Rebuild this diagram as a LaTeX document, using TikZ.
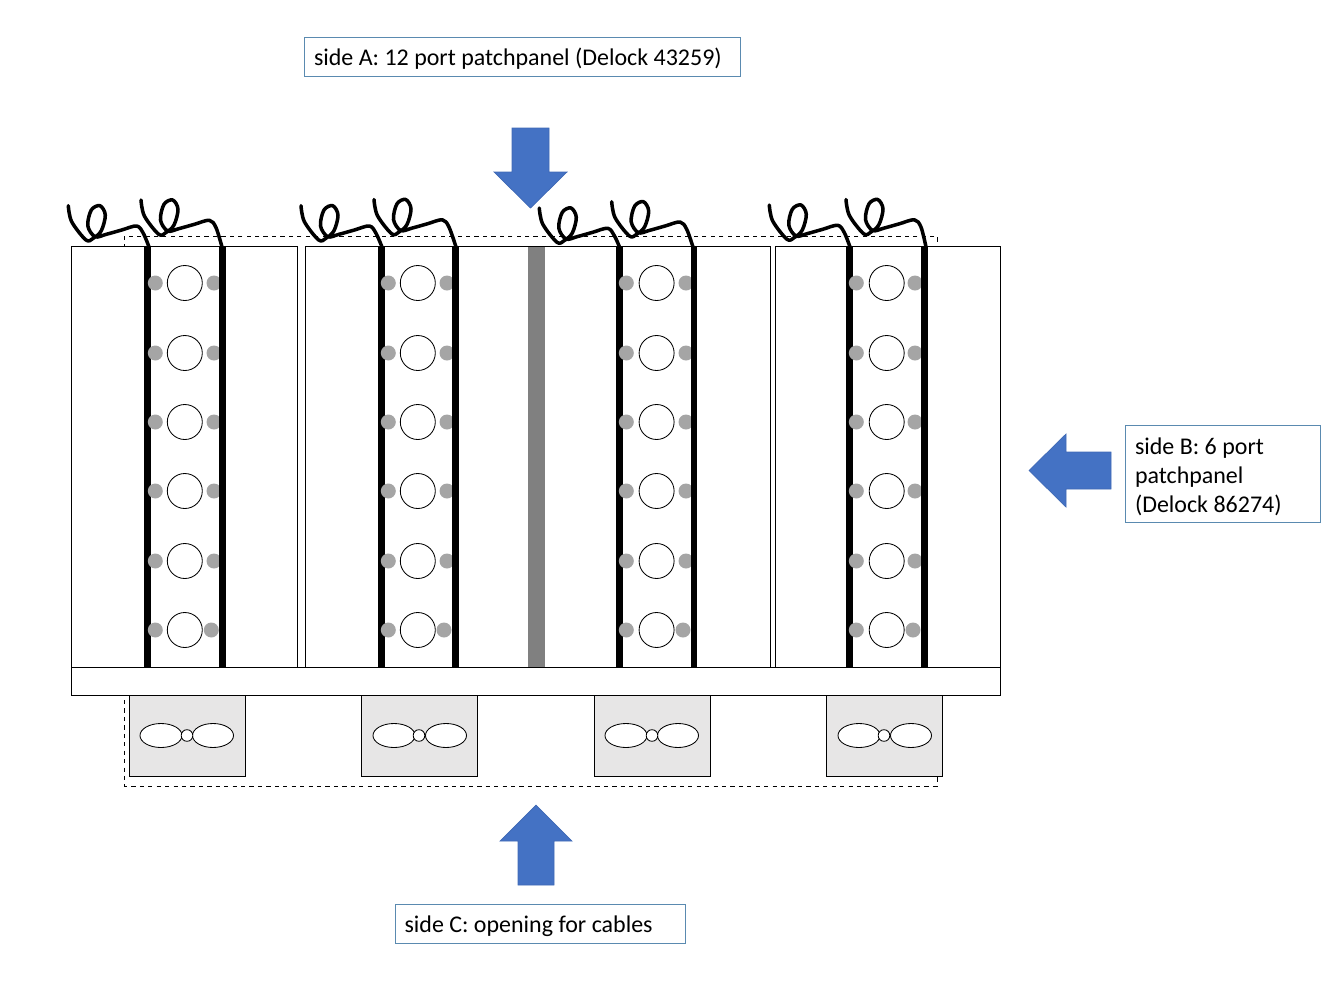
\documentclass[tikz,border=0pt]{standalone}
\usepackage{fontspec}
\setmainfont{Carlito}
\definecolor{arrowblue}{HTML}{4472C4}
\definecolor{arrowedge}{HTML}{3F69B5}
\definecolor{boxedge}{HTML}{5A8AB0}
\definecolor{fangray}{HTML}{E7E6E6}
\definecolor{dotgray}{HTML}{A5A5A5}
\tikzset{
    lab/.style={
        draw=boxedge, line width=0.6pt, inner sep=0pt, align=flush left,
        font=\fontsize{17.05}{20.5}\selectfont,
        execute at begin node={\rule{0pt}{15.5pt}}
    },
    panel/.style={draw=black, fill=white, line width=0.7pt},
    fanbox/.style={draw=black, fill=fangray, line width=0.7pt},
    blockarrow/.style={draw=arrowedge, fill=arrowblue, line width=0.5pt},
    port/.style={draw=black, fill=white, line width=0.6pt},
    wire/.style={line width=2.5pt, line cap=round, line join=round}
}
% curl at (#1,#2), running down into the bar top at x=#3
\newcommand{\curlwire}[3]{
    \draw[wire] plot[smooth,tension=0.55] coordinates {
        (#1,#2) (#1+3.4,#2+16) (#1+17.7,#2+34.3) (#1+25,#2+32.5) (#1+33,#2+25)
        (#1+37,#2+9.3) (#1+31.7,#2) (#1+23,#2+4.3) (#1+19.5,#2+20)
        (#1+26.7,#2+31) (#1+38,#2+28.6) (#1+53.4,#2+24.3) (#1+68.4,#2+20.3) (#1+75,#2+27.6) (#3,247)};
}
\begin{document}
\begin{tikzpicture}[x=0.025cm,y=-0.025cm,line join=miter]
\useasboundingbox (0,0) rectangle (1344,1008);

% dashed outline of the enclosure
    \draw[dashed, line width=0.6pt] (124.5,236) rectangle (937,786);

% panels
    \draw[panel] (71.5,246.5) rectangle (297.5,667);
    \draw[panel] (305,246.5) rectangle (770.5,667);
    \draw[panel] (775,246.5) rectangle (1000.5,667);
    \draw[panel] (71.5,667) rectangle (1000.5,695);

% divider
    \fill[gray] (528.3,247) rectangle (544.5,667);

% fan boxes
    \foreach \fx/\ox in {129.5/0,361.5/1,594.5/0,826.5/1}{
        \draw[fanbox] (\fx,695) rectangle ++(116,81);
        \draw[port] (\fx+\ox+31.5,735.5) ellipse (21 and 12);
        \draw[port] (\fx+\ox+83.5,735.5) ellipse (20.5 and 12);
        \draw[port] (\fx+57.5,735.5) circle (5.8);
    }

% right dots sit behind the bars
    \foreach \rx/\ex in {214/211.3,447/444,686/683,915/913}{
        \foreach \py in {283,353,422,491,561}{
            \fill[dotgray] (\rx,\py) circle (7.5);
        }
        \fill[dotgray] (\ex,630) circle (7.5);
    }

% bars and wires
    \foreach \bx in {147.5,222.5,381.5,455.5,619.5,694,849.5,924.5}{
        \fill[black] (\bx-3.3,247) rectangle (\bx+3.3,667);
    }
    \curlwire{68.3}{205.7}{149}
    \curlwire{141}{200}{222}
    \curlwire{301}{205.7}{382}
    \curlwire{374}{199.5}{456}
    \curlwire{539.3}{208}{619.5}
    \curlwire{611.7}{201.7}{693}
    \curlwire{769.3}{205}{850}
    \curlwire{846}{199.5}{926}

% ports: left dot and circle
    \foreach \lx/\cx in {155.3/184.8,388.3/417.8,626.3/656.6,856.3/886.7}{
        \foreach \py in {283,353,422,491,561,630}{
            \fill[dotgray] (\lx,\py) circle (7.5);
            \draw[port] (\cx,\py) circle (17.5);
        }
    }

% arrows
    \draw[blockarrow] (512,128) -- (549,128) -- (549,172) -- (567,172) -- (530.5,208) -- (494,172) -- (512,172) -- cycle;
    \draw[blockarrow] (518,885) -- (554,885) -- (554,841) -- (572,841) -- (536,805) -- (500,841) -- (518,841) -- cycle;
    \draw[blockarrow] (1111,452) -- (1111,489) -- (1066,489) -- (1066,507) -- (1029,470.5) -- (1066,434) -- (1066,452) -- cycle;

% labels
    \node[lab, text width=417*0.025cm, minimum width=436*0.025cm, minimum height=39*0.025cm] (sideA) at (522.5,57) {side A: 12 port patchpanel (Delock 43259)};
    \node[lab, text width=176*0.025cm, minimum width=195*0.025cm, minimum height=97*0.025cm] (sideB) at (1223,474) {side B: 6 port\\patchpanel\\(Delock 86274)};
    \node[lab, text width=271.5*0.025cm, minimum width=290.5*0.025cm, minimum height=39*0.025cm] (sideC) at (540.3,924) {side C: opening for cables};

\end{tikzpicture}
\end{document}
